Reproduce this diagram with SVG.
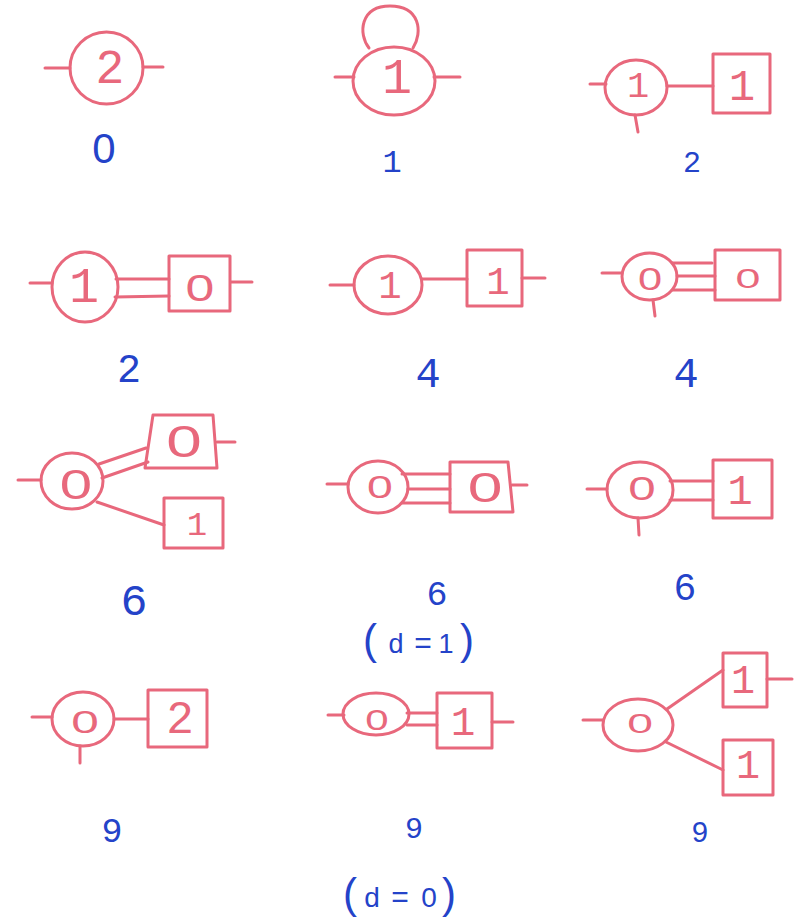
<svg xmlns="http://www.w3.org/2000/svg" width="797" height="919" viewBox="0 0 797 919">
<style>
.e{fill:none;stroke:#e8687c;stroke-width:3;stroke-linecap:round;stroke-linejoin:round}
.n{fill:#e8687c;font-family:"Liberation Mono","DejaVu Sans Mono",monospace;text-anchor:middle}
.z{fill:#e8687c;font-family:"Liberation Sans",Arial,sans-serif;text-anchor:middle}
.l{fill:#2443c9;font-family:"Liberation Mono","DejaVu Sans Mono",monospace;text-anchor:middle}
.ls{fill:#2443c9;font-family:"Liberation Sans",Arial,sans-serif;text-anchor:middle}
</style>
<rect width="797" height="919" fill="#ffffff"/>
<g id="connectors" class="e">
<line x1="45" y1="68" x2="70" y2="68"/><line x1="143" y1="67" x2="163" y2="67"/>
<path d="M369,48 C358,34 360,6 390,6 C420,6 423,32 413,48"/>
<line x1="335" y1="77" x2="354" y2="77"/><line x1="434" y1="77" x2="460" y2="77"/>
<line x1="590" y1="84" x2="606" y2="84"/><line x1="635" y1="115" x2="638" y2="132"/>
<line x1="667" y1="86" x2="713" y2="86"/>
<line x1="30" y1="283" x2="52" y2="283"/>
<line x1="116" y1="279" x2="169" y2="279"/><line x1="115" y1="297" x2="169" y2="296"/>
<line x1="231" y1="282" x2="252" y2="282"/>
<line x1="330" y1="285" x2="354" y2="285"/>
<line x1="422" y1="279" x2="467" y2="279"/>
<line x1="522" y1="278" x2="545" y2="278"/>
<line x1="602" y1="273" x2="622" y2="273"/><line x1="653" y1="300" x2="655" y2="316"/>
<line x1="672" y1="263" x2="712" y2="263"/><line x1="677" y1="276" x2="715" y2="276"/><line x1="672" y1="290" x2="715" y2="290"/>
<line x1="18" y1="480" x2="41" y2="480"/>
<line x1="99" y1="464" x2="146" y2="448"/><line x1="102" y1="478" x2="148" y2="462"/>
<line x1="217" y1="442" x2="235" y2="442"/>
<line x1="97" y1="502" x2="164" y2="525"/>
<line x1="327" y1="484" x2="348" y2="484"/>
<line x1="402" y1="474" x2="450" y2="474"/><line x1="408" y1="489" x2="450" y2="489"/><line x1="402" y1="503" x2="450" y2="503"/>
<line x1="512" y1="485" x2="527" y2="485"/>
<line x1="587" y1="489" x2="607" y2="489"/><line x1="638" y1="518" x2="639" y2="535"/>
<line x1="670" y1="481" x2="713" y2="481"/><line x1="670" y1="500" x2="713" y2="500"/>
<line x1="32" y1="717" x2="52" y2="717"/><line x1="80" y1="746" x2="80" y2="763"/>
<line x1="114" y1="719" x2="148" y2="719"/>
<line x1="328" y1="715" x2="344" y2="715"/>
<line x1="407" y1="713" x2="437" y2="713"/><line x1="407" y1="725" x2="437" y2="725"/>
<line x1="492" y1="722" x2="513" y2="722"/>
<line x1="583" y1="720" x2="603" y2="720"/>
<line x1="667" y1="709" x2="723" y2="670"/><line x1="666" y1="742" x2="723" y2="770"/>
<line x1="767" y1="679" x2="792" y2="679"/>
</g>

<g id="A-v"><ellipse class="e" cx="106.5" cy="68" rx="36.5" ry="36"/><text class="n" x="110" y="83" font-size="48">2</text></g>
<g id="B-v"><ellipse class="e" cx="394" cy="81" rx="41" ry="34"/><text class="n" x="397" y="93" font-size="50">1</text></g>
<g id="C-v"><ellipse class="e" cx="636" cy="87.5" rx="31" ry="27.5"/><text class="n" x="638" y="97" font-size="37">1</text></g>
<g id="C-w"><rect class="e" x="713" y="54" width="57" height="59"/><text class="n" x="742" y="100" font-size="44">1</text></g>

<g id="D-v"><ellipse class="e" cx="85" cy="287" rx="33" ry="35"/><text class="n" x="84" y="302" font-size="50">1</text></g>
<g id="D-w"><rect class="e" x="169" y="256" width="61" height="55"/><text class="z" font-size="37" transform="translate(200,288) scale(1.4,1)" y="13.3">0</text></g>
<g id="E-v"><ellipse class="e" cx="388" cy="285" rx="34" ry="29"/><text class="n" x="390" y="298" font-size="39">1</text></g>
<g id="E-w"><rect class="e" x="467" y="250" width="55" height="56"/><text class="n" x="498" y="294" font-size="39">1</text></g>
<g id="F-v"><ellipse class="e" cx="649.5" cy="276.5" rx="27.5" ry="23.5"/><text class="z" font-size="31" transform="translate(650,278.5) scale(1.4,1)" y="11.2">0</text></g>
<g id="F-w"><rect class="e" x="715" y="250" width="65" height="50"/><text class="z" font-size="28" transform="translate(748,277.5) scale(1.6,1)" y="10">0</text></g>

<g id="G-v"><ellipse class="e" cx="72" cy="481" rx="31" ry="28"/><text class="z" font-size="43" transform="translate(76,483) scale(1.35,1)" y="15.5">0</text></g>
<g id="G-w"><polygon class="e" points="153,415 213,415 217,468 145,468"/><text class="z" font-size="44" transform="translate(184,441) scale(1.45,1)" y="15.8">0</text></g>
<g id="G-x"><rect class="e" x="164" y="498" width="59" height="50"/><text class="n" x="197" y="535" font-size="34">1</text></g>
<g id="H-v"><ellipse class="e" cx="378" cy="487" rx="30" ry="26"/><text class="z" font-size="32" transform="translate(380,486.5) scale(1.45,1)" y="11.5">0</text></g>
<g id="H-w"><polygon class="e" points="450,462 508,462 513,512 450,512"/><text class="z" font-size="43" transform="translate(485,486) scale(1.45,1)" y="15.5">0</text></g>
<g id="I-v"><ellipse class="e" cx="640" cy="490" rx="33" ry="28"/><text class="z" font-size="34" transform="translate(642,487.5) scale(1.45,1)" y="12.2">0</text></g>
<g id="I-w"><rect class="e" x="713" y="460" width="59" height="58"/><text class="n" x="740" y="504" font-size="42">1</text></g>

<g id="J-v"><ellipse class="e" cx="83" cy="719" rx="31" ry="27"/><text class="z" font-size="32" transform="translate(85,721.5) scale(1.55,1)" y="11.5">0</text></g>
<g id="J-w"><rect class="e" x="148" y="690" width="59" height="57"/><text class="n" x="180" y="733" font-size="46">2</text></g>
<g id="K-v"><ellipse class="e" cx="376" cy="714" rx="33" ry="21"/><text class="z" font-size="30" transform="translate(377,719) scale(1.4,1)" y="10.8">0</text></g>
<g id="K-w"><rect class="e" x="437" y="693" width="55" height="55"/><text class="n" x="463" y="735" font-size="41">1</text></g>
<g id="L-v"><ellipse class="e" cx="638" cy="725" rx="35" ry="26"/><text class="z" font-size="28" transform="translate(640,723) scale(1.65,1)" y="10">0</text></g>
<g id="L-w"><rect class="e" x="723" y="653" width="44" height="54"/><text class="n" x="743" y="693" font-size="40">1</text></g>
<g id="L-x"><rect class="e" x="723" y="740" width="50" height="55"/><text class="n" x="748" y="778" font-size="40">1</text></g>

<g id="labels">
<text class="ls" x="104" y="163" font-size="42">0</text>
<text class="l" x="392" y="172" font-size="32">1</text>
<text class="l" x="692" y="172" font-size="30">2</text>
<text class="l" x="129" y="382" font-size="40">2</text>
<text class="l" x="428" y="387" font-size="42">4</text>
<text class="l" x="686" y="387" font-size="42">4</text>
<text class="l" x="134" y="615" font-size="45">6</text>
<text class="l" x="437" y="605" font-size="35">6</text>
<text class="l" x="685" y="600" font-size="38">6</text>
<text class="ls"><tspan x="370" y="654" font-size="42">(</tspan><tspan x="396" y="653" font-size="27">d</tspan><tspan x="423" y="653" font-size="30">=</tspan><tspan x="446" y="653" font-size="27">1</tspan><tspan x="467" y="654" font-size="42">)</tspan></text>
<text class="l" x="112" y="842" font-size="35">9</text>
<text class="l" x="414" y="838" font-size="30">9</text>
<text class="l" x="700" y="842" font-size="29">9</text>
<text class="ls"><tspan x="350" y="908" font-size="42">(</tspan><tspan x="372" y="907" font-size="28">d</tspan><tspan x="400" y="907" font-size="30">=</tspan><tspan x="429" y="907" font-size="28">0</tspan><tspan x="449" y="908" font-size="42">)</tspan></text>
</g>
</svg>
